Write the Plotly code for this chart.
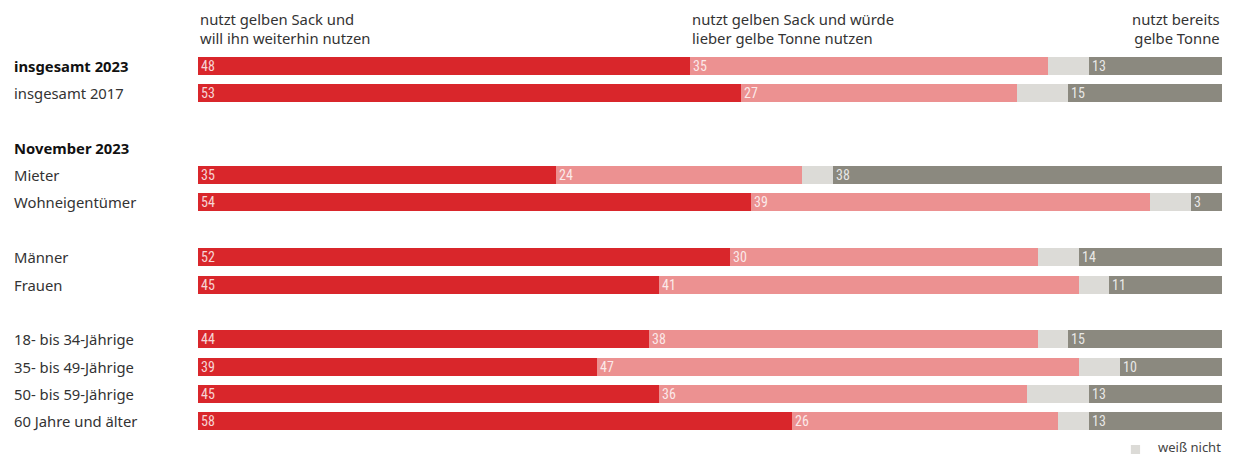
import plotly.graph_objects as go

rows = ["insgesamt 2023", "insgesamt 2017", None, "November 2023", "Mieter", "Wohneigentümer", None,
        "Männer", "Frauen", None, "18- bis 34-Jährige", "35- bis 49-Jährige", "50- bis 59-Jährige",
        "60 Jahre und älter"]
bold_rows = ["insgesamt 2023", "November 2023"]

categories = ["insgesamt 2023", "insgesamt 2017", "Mieter", "Wohneigentümer", "Männer", "Frauen",
              "18- bis 34-Jährige", "35- bis 49-Jährige", "50- bis 59-Jährige", "60 Jahre und älter"]
will_sack = [48, 53, 35, 54, 52, 45, 44, 39, 45, 58]
lieber_tonne = [35, 27, 24, 39, 30, 41, 38, 47, 36, 26]
weiss_nicht = [4, 5, 3, 4, 4, 3, 3, 4, 6, 3]
hat_tonne = [13, 15, 38, 3, 14, 11, 15, 10, 13, 13]

GRAY_LIGHT = "#dcdbd7"
series = [
    ("nutzt gelben Sack und will ihn weiterhin nutzen", will_sack, "#d9262b", True),
    ("nutzt gelben Sack und würde lieber gelbe Tonne nutzen", lieber_tonne, "#ec9191", True),
    ("weiß nicht", weiss_nicht, GRAY_LIGHT, False),
    ("nutzt bereits gelbe Tonne", hat_tonne, "#8b897f", True),
]

ypos = [rows.index(c) for c in categories]

fig = go.Figure()
for name, vals, color, show_text in series:
    fig.add_trace(go.Bar(
        x=vals, y=ypos, orientation="h", name=name,
        marker=dict(color=color, line=dict(width=0)),
        width=0.66,
        text=[str(v) for v in vals] if show_text else None,
        textposition="inside" if show_text else "none",
        insidetextanchor="start",
        textangle=0,
        textfont=dict(family="Roboto Condensed, Roboto, sans-serif", size=14,
                      color="rgba(255,255,255,0.82)"),
        constraintext="none",
        showlegend=False,
        hoverinfo="x+name",
    ))

label_font_size = 14.8
annotations = []
for i, r in enumerate(rows):
    if r is None:
        continue
    txt = f"<b>{r}</b>" if r in bold_rows else r
    annotations.append(dict(
        text=txt, xref="paper", x=(12 - 198) / 1024, xanchor="left",
        yref="y", y=i, yanchor="middle", showarrow=False,
        font=dict(family="Noto Sans", size=label_font_size,
                  color="#333333" if r not in bold_rows else "#111111"),
    ))

header_font = dict(family="Noto Sans", size=label_font_size, color="#333333")
annotations += [
    dict(text="nutzt gelben Sack und<br>will ihn weiterhin nutzen", xref="x", x=0, xanchor="left",
         yref="paper", y=1.004, yanchor="bottom", align="left", showarrow=False, font=header_font),
    dict(text="nutzt gelben Sack und würde<br>lieber gelbe Tonne nutzen", xref="x", x=will_sack[0],
         xanchor="left", yref="paper", y=1.004, yanchor="bottom", align="left", showarrow=False,
         font=header_font),
    dict(text="nutzt bereits<br>gelbe Tonne", xref="x", x=100, xanchor="right",
         yref="paper", y=1.004, yanchor="bottom", align="right", showarrow=False, font=header_font),
    dict(text="weiß nicht", xref="paper", x=1, xanchor="right",
         yref="paper", y=-0.032, yanchor="middle", showarrow=False, borderpad=0,
         font=dict(family="Noto Sans", size=13, color="#444444")),
]

shapes = [dict(type="rect", xref="paper", yref="paper", x0=0.911, x1=0.920, y0=-0.0496, y1=-0.0261,
               fillcolor=GRAY_LIGHT, line=dict(width=0))]

fig.update_layout(
    barmode="stack",
    width=1235, height=456,
    margin=dict(l=198, r=13, t=52, b=21),
    paper_bgcolor="white", plot_bgcolor="white",
    bargap=0,
    showlegend=False,
    xaxis=dict(range=[0, 100], visible=False, fixedrange=True),
    yaxis=dict(range=[13.5, -0.5], visible=False, fixedrange=True),
    annotations=annotations,
    shapes=shapes,
    font=dict(family="Noto Sans"),
)

fig.write_html("out.html", config={"displayModeBar": False},
               post_script="document.body.style.margin='0';document.body.style.overflow='hidden';")
